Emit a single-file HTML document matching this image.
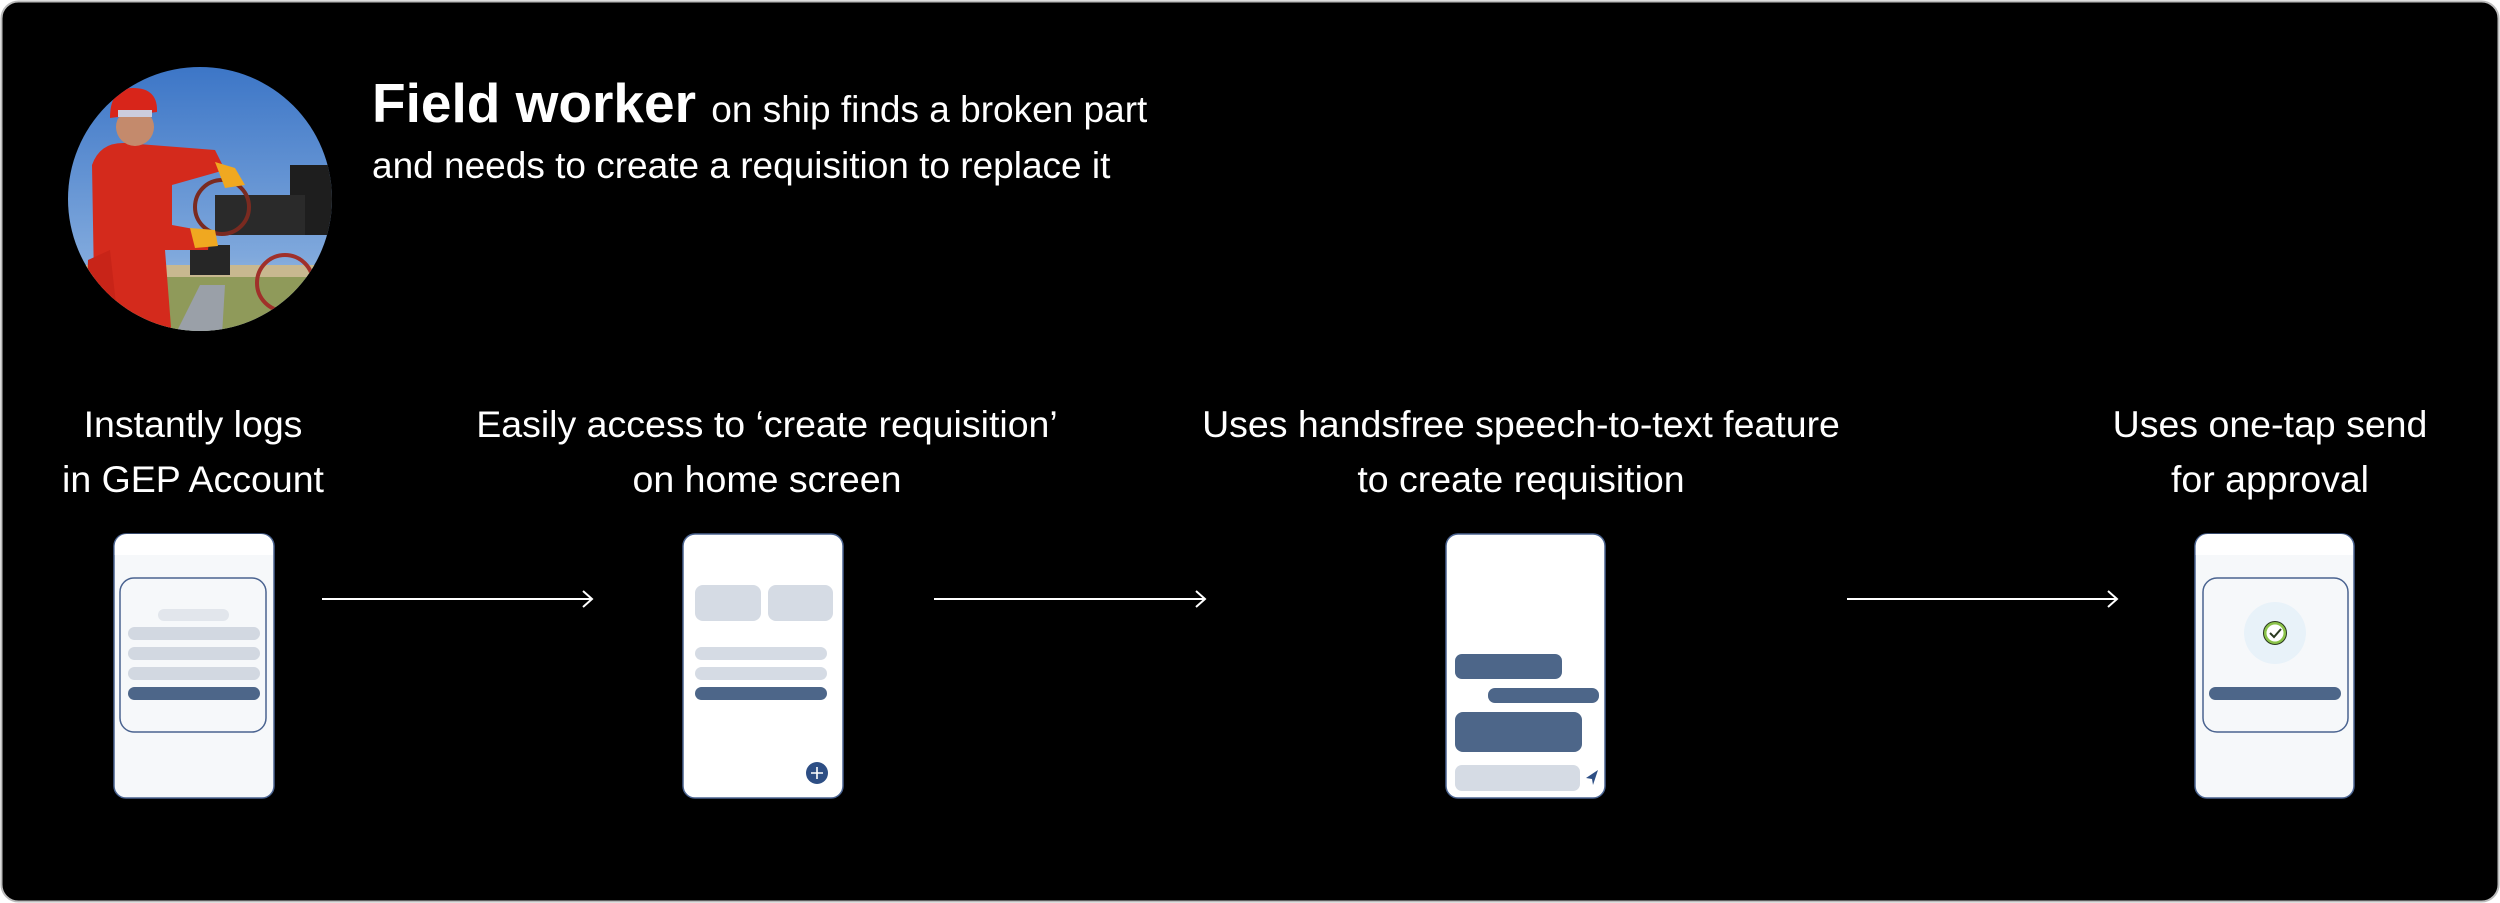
<!DOCTYPE html>
<html><head><meta charset="utf-8"><style>
html,body{margin:0;padding:0;background:#fff;}
svg{display:block;}
text{font-family:"Liberation Sans",sans-serif;fill:#fff;}
</style></head><body>
<svg width="2500" height="903" viewBox="0 0 2500 903" xmlns="http://www.w3.org/2000/svg">
<defs>
<clipPath id="cc"><circle cx="200" cy="199" r="132"/></clipPath>
<linearGradient id="sky" x1="0" y1="0" x2="0" y2="1">
<stop offset="0" stop-color="#3a74c6"/><stop offset="0.7" stop-color="#7fa8dc"/><stop offset="1" stop-color="#b9cde4"/></linearGradient>
</defs>
<rect x="1.5" y="1.5" width="2497" height="900" rx="17" fill="#000" stroke="#bbb" stroke-width="2"/>
<!-- photo -->
<g clip-path="url(#cc)">
<rect x="60" y="60" width="280" height="280" fill="url(#sky)"/>
<rect x="60" y="265" width="280" height="80" fill="#8f9a5a"/>
<rect x="60" y="265" width="280" height="12" fill="#c8b890"/>
<rect x="290" y="165" width="45" height="70" fill="#1e1e1e"/>
<rect x="215" y="195" width="90" height="40" fill="#2a2a2a"/>
<rect x="190" y="245" width="40" height="30" fill="#262626"/>
<circle cx="222" cy="207" r="27" fill="none" stroke="#7a2a20" stroke-width="4"/>
<circle cx="285" cy="283" r="28" fill="none" stroke="#a0302a" stroke-width="4"/>
<path d="M200 285 L225 285 L222 335 L175 335 Z" fill="#9aa0a8"/>
<path d="M95 340 L92 165 Q100 142 125 143 L215 150 L225 170 L172 185 L172 225 L210 232 L208 250 L165 250 L172 340 Z" fill="#d42a1c"/>
<path d="M85 340 L88 260 L110 250 L120 340 Z" fill="#c82418"/>
<circle cx="135" cy="127" r="19" fill="#c48a6c"/>
<path d="M110 118 Q110 88 133 88 Q158 88 157 112 Z" fill="#d8251a"/>
<rect x="118" y="110" width="34" height="7" fill="#ccd"/>
<path d="M215 162 L235 168 L245 185 L225 188 Z" fill="#f0a820"/>
<path d="M190 228 L215 230 L218 246 L195 248 Z" fill="#f0a820"/>
</g>
<!-- header -->
<text x="372" y="122" font-size="55" font-weight="bold">Field worker <tspan font-size="37" font-weight="normal">on ship finds a broken part</tspan></text>
<text x="372" y="178" font-size="37">and needs to create a requisition to replace it</text>
<!-- labels -->
<g font-size="37.5" text-anchor="middle">
<text x="193" y="437">Instantly logs</text>
<text x="193" y="492">in GEP Account</text>
<text x="767" y="437">Easily access to ‘create requisition’</text>
<text x="767" y="492">on home screen</text>
<text x="1521" y="437">Uses handsfree speech-to-text feature</text>
<text x="1521" y="492">to create requisition</text>
<text x="2270" y="437">Uses one-tap send</text>
<text x="2270" y="492">for approval</text>
</g>
<!-- arrows -->
<g stroke="#fff" stroke-width="2" fill="none">
<line x1="322" y1="599" x2="592" y2="599"/><polyline points="583,591 592,599 583,607"/>
<line x1="934" y1="599" x2="1205" y2="599"/><polyline points="1196,591 1205,599 1196,607"/>
<line x1="1847" y1="599" x2="2117" y2="599"/><polyline points="2108,591 2117,599 2108,607"/>
</g>
<!-- phone 1 -->
<rect x="114" y="534" width="160" height="264" rx="12" fill="#f6f8fa" stroke="#4a6390" stroke-width="1.5"/>
<path d="M114.75 555 V546 a12 12 0 0 1 12 -12 H261 a12 12 0 0 1 12 12 V555 Z" fill="#fff"/>
<rect x="120" y="578" width="146" height="154" rx="14" fill="#f6f8fa" stroke="#4a6390" stroke-width="1.5"/>
<rect x="158" y="609" width="71" height="12" rx="6" fill="#e2e6ec"/>
<rect x="128" y="627" width="132" height="13" rx="6.5" fill="#d2d8e1"/>
<rect x="128" y="647" width="132" height="13" rx="6.5" fill="#d2d8e1"/>
<rect x="128" y="667" width="132" height="13" rx="6.5" fill="#d2d8e1"/>
<rect x="128" y="687" width="132" height="13" rx="6.5" fill="#4d6689"/>
<!-- phone 2 -->
<rect x="683" y="534" width="160" height="264" rx="12" fill="#fff" stroke="#4a6390" stroke-width="1.5"/>
<rect x="695" y="585" width="66" height="36" rx="8" fill="#d5dbe4"/>
<rect x="768" y="585" width="65" height="36" rx="8" fill="#d5dbe4"/>
<rect x="695" y="647" width="132" height="13" rx="6.5" fill="#d5dbe4"/>
<rect x="695" y="667" width="132" height="13" rx="6.5" fill="#d5dbe4"/>
<rect x="695" y="687" width="132" height="13" rx="6.5" fill="#4d6689"/>
<circle cx="817" cy="773" r="11" fill="#2d4e84"/>
<path d="M811 773 H823 M817 767 V779" stroke="#fff" stroke-width="1.6"/>
<!-- phone 3 -->
<rect x="1446" y="534" width="159" height="264" rx="12" fill="#fff" stroke="#4a6390" stroke-width="1.5"/>
<rect x="1455" y="654" width="107" height="25" rx="7" fill="#4d6689"/>
<rect x="1488" y="688" width="111" height="15" rx="7" fill="#4d6689"/>
<rect x="1455" y="712" width="127" height="40" rx="8" fill="#4d6689"/>
<rect x="1455" y="765" width="125" height="26" rx="7" fill="#d5dbe4"/>
<path d="M1598 770 L1586 778 L1592 779 L1593 785 Z" fill="#2d4e84"/>
<!-- phone 4 -->
<rect x="2195" y="534" width="159" height="264" rx="12" fill="#f6f8fa" stroke="#4a6390" stroke-width="1.5"/>
<path d="M2195.75 555 V546 a12 12 0 0 1 12 -12 H2341 a12 12 0 0 1 12 12 V555 Z" fill="#fff"/>
<rect x="2203" y="578" width="145" height="154" rx="14" fill="#f6f8fa" stroke="#4a6390" stroke-width="1.5"/>
<circle cx="2275" cy="633" r="31" fill="#e8f2f9"/>
<circle cx="2275" cy="633" r="10" fill="#fff" stroke="#8bc34a" stroke-width="3"/>
<circle cx="2275" cy="633" r="11.5" fill="none" stroke="#2a3a20" stroke-width="1"/>
<path d="M2270 633 L2274 637 L2281 629" stroke="#2a3a20" stroke-width="2" fill="none"/>
<rect x="2209" y="687" width="132" height="13" rx="6.5" fill="#4d6689"/>
</svg>
</body></html>
